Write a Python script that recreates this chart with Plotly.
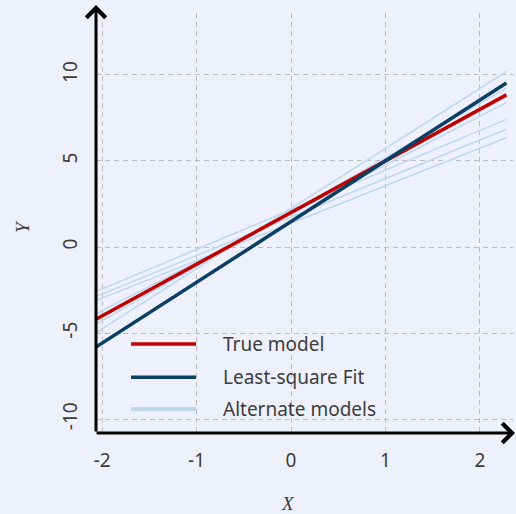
import plotly.graph_objects as go

# ---- data ----
x_ends = [-2.07, 2.28]
true_model = [-4.21, 8.84]
lsq_fit = [-5.83, 9.53]
alt_models = [
    [-5.0, 10.2],
    [-4.5, 9.23],
    [-3.9, 8.39],
    [-2.6, 7.42],
    [-2.89, 6.84],
    [-3.12, 6.35],
]
x_ticks = [-2, -1, 0, 1, 2]
y_ticks = [-10, -5, 0, 5, 10]
legend_labels = ["True model", "Least-square Fit", "Alternate models"]

RED = "#c00000"
DARK = "#0b3f63"
LIGHT = "#bdd7ee"
BG = "#eef1fc"
TXT = "#3c3c3c"

fig = go.Figure()
for i, ys in enumerate(alt_models):
    fig.add_trace(go.Scatter(x=x_ends, y=ys, mode="lines", name=legend_labels[2],
                             line=dict(color=LIGHT, width=1.5), showlegend=False))
fig.add_trace(go.Scatter(x=x_ends, y=true_model, mode="lines", name=legend_labels[0],
                         line=dict(color=RED, width=3.5), showlegend=False))
fig.add_trace(go.Scatter(x=x_ends, y=lsq_fit, mode="lines", name=legend_labels[1],
                         line=dict(color=DARK, width=3.5), showlegend=False))

# manual legend (samples + labels) in paper coordinates
leg_rows = [0.212, 0.133, 0.057]
leg_cols = [RED, DARK, LIGHT]
leg_w = [3.5, 3.5, 4]
shapes = []
annotations = []
for lab, yy, c, w in zip(legend_labels, leg_rows, leg_cols, leg_w):
    shapes.append(dict(type="line", xref="paper", yref="paper", x0=0.084, x1=0.240,
                       y0=yy, y1=yy, line=dict(color=c, width=w)))
    annotations.append(dict(xref="paper", yref="paper", x=0.300, y=yy, text=lab,
                            showarrow=False, xanchor="left", yanchor="middle",
                            font=dict(family="Noto Sans", size=19, color=TXT)))

# axis arrows
annotations.append(dict(xref="paper", yref="paper", x=0, y=1.019, text="",
                        showarrow=True, ax=0, ay=428, axref="pixel", ayref="pixel",
                        arrowhead=4, arrowsize=1.25, arrowwidth=3, arrowcolor="black"))
annotations.append(dict(xref="paper", yref="paper", x=1.005, y=0, text="",
                        showarrow=True, ax=-420, ay=0, axref="pixel", ayref="pixel",
                        arrowhead=4, arrowsize=1.25, arrowwidth=3, arrowcolor="black"))

# axis titles
annotations.append(dict(xref="paper", yref="paper", x=(288 - 96) / 417, y=(433 - 503) / 420,
                        text="X", showarrow=False, xanchor="center", yanchor="middle",
                        font=dict(family="Liberation Serif", size=19, color=TXT, style="italic")))
annotations.append(dict(xref="paper", yref="paper", x=(22 - 96) / 417, y=(433 - 227) / 420,
                        text="Y", showarrow=False, xanchor="center", yanchor="middle",
                        textangle=-90,
                        font=dict(family="Liberation Serif", size=19, color=TXT, style="italic")))

fig.update_layout(
    width=516, height=514,
    margin=dict(l=96, r=3, t=13, b=81),
    paper_bgcolor=BG, plot_bgcolor=BG,
    showlegend=False,
    shapes=shapes, annotations=annotations,
    xaxis=dict(range=[-2.065, 2.35], tickvals=x_ticks, ticktext=[str(v) for v in x_ticks],
               showgrid=True, gridcolor="#bdbdbd", griddash="5px,4px", gridwidth=1,
               zeroline=False, showline=False, ticks="", ticklabelstandoff=14,
               tickfont=dict(family="Noto Sans", size=19, color=TXT)),
    yaxis=dict(range=[-10.81, 13.6], tickvals=y_ticks, ticktext=[str(v) for v in y_ticks],
               showgrid=True, gridcolor="#bdbdbd", griddash="5px,4px", gridwidth=1,
               zeroline=False, showline=False, ticks="", tickangle=-90, ticklabelstandoff=14,
               tickfont=dict(family="Noto Sans", size=19, color=TXT)),
)

fig.write_html("out.html")
